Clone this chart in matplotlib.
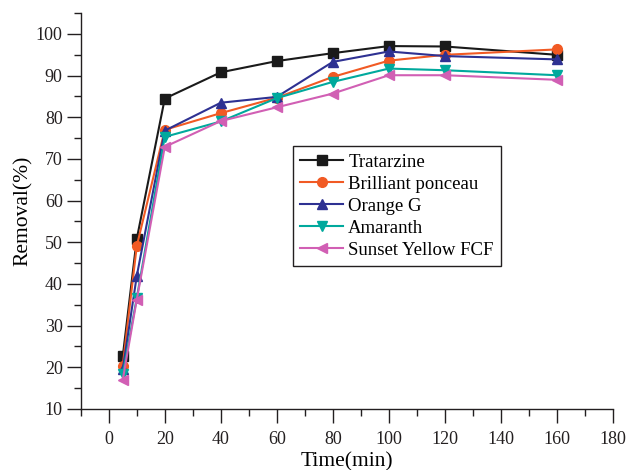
import matplotlib
matplotlib.use('Agg')
import matplotlib.pyplot as plt
from matplotlib.ticker import MultipleLocator

plt.rcParams['font.family'] = 'Liberation Serif'

# contact time (min)
time_min = [5, 10, 20, 40, 60, 80, 100, 120, 160]

# removal (%) for each dye
tratarzine = [22.6, 50.8, 84.5, 90.8, 93.5, 95.4, 97.1, 97.0, 95.0]
ponceau = [20.4, 49.1, 77.0, 81.0, 84.7, 89.7, 93.6, 95.0, 96.3]
orange_g = [19.5, 41.9, 76.8, 83.5, 84.9, 93.3, 95.8, 94.7, 93.9]
amaranth = [18.4, 36.6, 75.3, 79.0, 84.6, 88.5, 91.7, 91.3, 90.1]
sunset_yellow = [17.0, 36.2, 72.9, 79.1, 82.4, 85.7, 90.1, 90.1, 89.0]

labels = ['Tratarzine', 'Brilliant ponceau', 'Orange G', 'Amaranth', 'Sunset Yellow FCF']
series = [tratarzine, ponceau, orange_g, amaranth, sunset_yellow]
colors = ['#1a1a1a', '#f15a24', '#2e3192', '#00a99d', '#d15fb4']
markers = ['s', 'o', '^', 'v', '<']

fig = plt.figure(figsize=(6.26, 4.70), dpi=100)
ax = fig.add_axes([0.129, 0.130, 0.850, 0.842])

for vals, lab, c, m in zip(series, labels, colors, markers):
    ax.plot(time_min, vals, color=c, marker=m, markersize=7, linewidth=1.5, label=lab)

ax.set_xlim(-10, 180)
ax.set_ylim(10, 105)
ax.xaxis.set_major_locator(MultipleLocator(20))
ax.xaxis.set_minor_locator(MultipleLocator(10))
ax.yaxis.set_major_locator(MultipleLocator(10))
ax.yaxis.set_minor_locator(MultipleLocator(5))

for side in ['top', 'right']:
    ax.spines[side].set_visible(False)
for side in ['left', 'bottom']:
    ax.spines[side].set_linewidth(1.0)
    ax.spines[side].set_color('#231f20')

ax.tick_params(which='major', direction='out', length=10, width=1.0, labelsize=13,
               colors='#231f20')
ax.tick_params(axis='x', which='major', pad=6)
ax.tick_params(axis='y', which='major', pad=3)
ax.tick_params(which='minor', direction='out', length=5, width=1.0, colors='#231f20')

ax.set_xlabel('Time(min)', fontsize=15.5, labelpad=3)
ax.set_ylabel('Removal(%)', fontsize=15.5, labelpad=2)

leg = ax.legend(loc='lower left', bbox_to_anchor=(0.398, 0.361), fontsize=13.5,
                fancybox=False, edgecolor='#231f20', framealpha=1,
                handlelength=2.3, handletextpad=0.27, labelspacing=0.26,
                borderpad=0.4, borderaxespad=0)
leg.get_frame().set_linewidth(1.0)

plt.savefig('out.png', dpi=100)
plt.close(fig)
